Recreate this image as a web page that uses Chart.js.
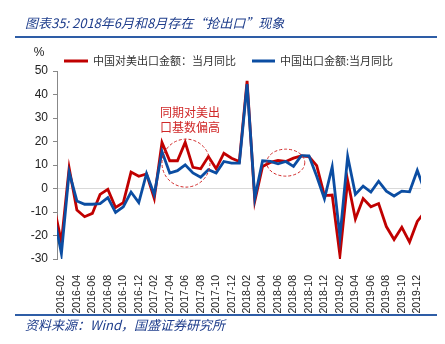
<!DOCTYPE html>
<html>
<head>
<meta charset="utf-8">
<script src="https://cdn.jsdelivr.net/npm/chart.js@4.4.0/dist/chart.umd.min.js"></script>
<style>
  html, body { margin: 0; padding: 0; background: #fff; }
  #wrap { width: 445px; height: 344px; position: relative; }
</style>
</head>
<body>
<div id="wrap"><canvas id="exportChart" width="445" height="344"></canvas></div>
<script>
// 2018年6月和8月存在“抢出口”现象

const months = [
    '2016-01', '2016-02', '2016-03', '2016-04', '2016-05', '2016-06', '2016-07', '2016-08', '2016-09', '2016-10', '2016-11', '2016-12',
    '2017-01', '2017-02', '2017-03', '2017-04', '2017-05', '2017-06', '2017-07', '2017-08', '2017-09', '2017-10', '2017-11', '2017-12',
    '2018-01', '2018-02', '2018-03', '2018-04', '2018-05', '2018-06', '2018-07', '2018-08', '2018-09', '2018-10', '2018-11', '2018-12',
    '2019-01', '2019-02', '2019-03', '2019-04', '2019-05', '2019-06', '2019-07', '2019-08', '2019-09', '2019-10', '2019-11', '2019-12',
    '2020-01'
];

// 中国对美出口金额：当月同比 (%)
const usExports = [
    -6.9, -22.8, 8.7, -9.2, -12.0, -10.6, -2.5, -0.4, -8.1, -6.0, 7.0, 5.2,
    6.2, -4.2, 19.6, 11.8, 11.8, 19.6, 9.0, 8.4, 13.6, 8.4, 15.0, 12.9,
    11.5, 45.8, -5.3, 9.4, 11.1, 11.9, 11.5, 12.9, 13.9, 13.6, 9.7, -3.0,
    -2.8, -28.4, 3.4, -13.0, -4.3, -7.8, -6.4, -16.2, -21.7, -16.5, -22.8, -14.0,
    -9.8
];

// 中国出口金额:当月同比 (%)
const totalExports = [
    -10.8, -27.7, 7.0, -5.3, -6.7, -6.7, -6.4, -3.9, -10.2, -7.8, -1.5, -6.0,
    6.3, -2.5, 15.7, 6.6, 7.6, 10.1, 6.6, 4.8, 8.0, 6.6, 11.5, 10.8,
    10.8, 44.4, -4.0, 11.8, 11.5, 10.5, 11.5, 9.4, 14.0, 13.9, 5.2, -4.4,
    9.2, -20.7, 13.6, -2.5, 1.0, -1.5, 3.1, -1.1, -3.2, -1.1, -1.4, 7.7,
    -1.3
];

const yTicks = [-30, -20, -10, 0, 10, 20, 30, 40, 50];

const RED = '#C00000';
const BLUE = '#0B4DA2';
const CJK = '"Noto Sans CJK SC", "Noto Sans", sans-serif';

// every second month gets a label: 2016-02, 2016-04 ...
const labelIdx = months.map((m, i) => i).filter(i => i % 2 === 1);

// Decorations: title, rules, legend, note and dashed circles
const decorPlugin = {
    id: 'decor',
    afterDraw(chart) {
        const ctx = chart.ctx;
        const xs = chart.scales.x, ys = chart.scales.y;
        ctx.save();

        // title
        ctx.fillStyle = '#1F3E8C';
        ctx.font = 'italic 13px ' + CJK;
        ctx.textBaseline = 'middle';
        ctx.textAlign = 'left';
        ctx.fillText('图表35: 2018年6月和8月存在“抢出口”现象', 25, 23);

        // rules
        ctx.fillStyle = '#2E5DA6';
        ctx.fillRect(15, 36, 422, 2);
        ctx.fillRect(15, 314, 422, 2);

        // source
        ctx.fillStyle = '#1F3E8C';
        ctx.font = 'italic 13px ' + CJK;
        ctx.fillText('资料来源：Wind，国盛证券研究所', 25, 325);

        // unit
        ctx.fillStyle = '#222';
        ctx.font = '12px "Liberation Sans", Arial, sans-serif';
        ctx.textAlign = 'center';
        ctx.fillText('%', 39, 53);

        // legend
        ctx.textAlign = 'left';
        ctx.font = '11px ' + CJK;
        ctx.lineWidth = 3;
        ctx.strokeStyle = RED;
        ctx.beginPath(); ctx.moveTo(64, 61); ctx.lineTo(88, 61); ctx.stroke();
        ctx.fillStyle = '#333';
        ctx.fillText('中国对美出口金额：当月同比', 93, 61);
        ctx.strokeStyle = BLUE;
        ctx.beginPath(); ctx.moveTo(252, 61); ctx.lineTo(275, 61); ctx.stroke();
        ctx.fillText('中国出口金额:当月同比', 280, 61);

        // note
        ctx.fillStyle = '#D02828';
        ctx.font = '12px ' + CJK;
        ctx.textAlign = 'center';
        ctx.fillText('同期对美出', 190, 112);
        ctx.fillText('口基数偏高', 190, 127);

        // dashed circles
        ctx.strokeStyle = '#D02828';
        ctx.lineWidth = 1;
        ctx.setLineDash([3, 2]);
        ctx.beginPath();
        ctx.ellipse(xs.getPixelForValue(17.1), ys.getPixelForValue(10.8), 24, 24, 0, 0, Math.PI * 2);
        ctx.stroke();
        ctx.beginPath();
        ctx.ellipse(xs.getPixelForValue(30.0), ys.getPixelForValue(11.0), 19, 13.5, 0, 0, Math.PI * 2);
        ctx.stroke();

        ctx.restore();
    }
};

new Chart(document.getElementById('exportChart').getContext('2d'), {
    type: 'line',
    data: {
        datasets: [{
            label: '中国出口金额:当月同比',
            data: totalExports.map((v, i) => ({ x: i, y: v })),
            borderColor: BLUE,
            borderWidth: 2.8,
            pointRadius: 0,
            tension: 0,
            clip: 0,
            order: 0
        }, {
            label: '中国对美出口金额：当月同比',
            data: usExports.map((v, i) => ({ x: i, y: v })),
            borderColor: RED,
            borderWidth: 2.8,
            pointRadius: 0,
            tension: 0,
            clip: 0,
            order: 1
        }]
    },
    options: {
        responsive: false,
        animation: false,
        layout: { padding: { top: 71, right: 24, left: 0, bottom: 0 } },
        plugins: {
            legend: { display: false },
            tooltip: { enabled: false }
        },
        scales: {
            x: {
                type: 'linear',
                min: 0.43,
                max: 47.48,
                afterBuildTicks: scale => {
                    scale.ticks = labelIdx.map(v => ({ value: v }));
                },
                afterFit: scale => { scale.height = 85; },
                border: { display: false },
                grid: { display: false },
                ticks: {
                    autoSkip: false,
                    minRotation: 90,
                    maxRotation: 90,
                    padding: 8,
                    color: '#222',
                    font: { family: '"Liberation Sans", Arial, sans-serif', size: 10.5 },
                    callback: v => months[v] || ''
                }
            },
            y: {
                min: -30,
                max: 50,
                afterBuildTicks: scale => {
                    scale.ticks = yTicks.map(v => ({ value: v }));
                },
                afterFit: scale => { scale.width = 57; },
                border: { display: true, color: '#888', width: 1 },
                grid: {
                    color: ctx => ctx.tick && ctx.tick.value === 0 ? '#D9D9D9' : 'rgba(0,0,0,0)',
                    tickColor: '#888',
                    tickLength: 4,
                    lineWidth: 1
                },
                ticks: {
                    padding: 5,
                    color: '#222',
                    font: { family: '"Liberation Sans", Arial, sans-serif', size: 12 }
                }
            }
        }
    },
    plugins: [decorPlugin]
});
</script>
</body>
</html>
